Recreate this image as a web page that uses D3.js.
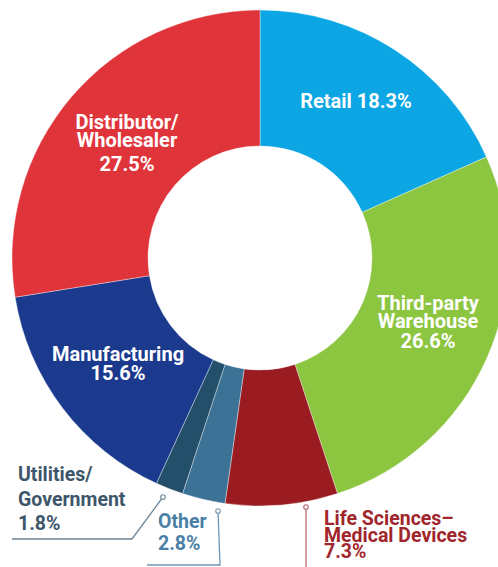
<!DOCTYPE html>
<html>
<head>
<meta charset="utf-8">
<script src="https://cdn.jsdelivr.net/npm/d3@7"></script>
<style>
  html, body { margin: 0; padding: 0; background: #fff; }
  svg { display: block; }
  text { font-family: Roboto, "Noto Sans", sans-serif; }
</style>
</head>
<body>
<svg id="chart" width="498" height="567"></svg>
<script>
// Share of respondents by industry (percent), clockwise from 12 o'clock
const categories = ["Retail", "Third-party Warehouse", "Life Sciences–Medical Devices", "Other", "Utilities/Government", "Manufacturing", "Distributor/Wholesaler"];
const shares = [18.3, 26.6, 7.3, 2.8, 1.8, 15.6, 27.5];
// How each category name is broken over lines in its label
const nameLines = [
  ["Retail"],
  ["Third-party", "Warehouse"],
  ["Life Sciences–", "Medical Devices"],
  ["Other"],
  ["Utilities/", "Government"],
  ["Manufacturing"],
  ["Distributor/", "Wholesaler"]
];

const colors = ["#0ba6e3", "#8cc540", "#9a1c20", "#3d7297", "#234f6a", "#1b3a8e", "#e0343b"];
const outerText = { 2: "#a0262b", 3: "#4a7fa6", 4: "#3e566a" };
const leaderColor = { 2: "#b86a6e", 3: "#6f95b3", 4: "#6f8799" };

// Layout
const cx = 260, cy = 258, R = 248, r = 112;

// Text anchors: inside labels are centred, outside labels are left aligned
const inside = {
  0: { x: 356, y: 108, single: true },
  1: { x: 428, y: 310, gaps: [18, 20] },
  5: { x: 118, y: 361, gaps: [19] },
  6: { x: 127, y: 129, gaps: [18, 24] }
};
const outside = {
  4: { x: 18, y: 481, gap: 24.5, leader: [[163, 497], [132, 539], [12, 539]] },
  3: { x: 158, y: 528, gap: 22, leader: [[218, 511], [220, 565], [147, 565]] },
  2: { x: 324, y: 525, gap: 16.5, leader: [[306, 507], [306, 570]] }
};

const svg = d3.select("#chart");
const fmt = v => d3.format(".1f")(v) + "%";

const pie = d3.pie().sort(null).value(d => d)
  .startAngle(0).endAngle(2 * Math.PI);
const arc = d3.arc().innerRadius(r).outerRadius(R);

const g = svg.append("g").attr("transform", `translate(${cx},${cy})`);
g.selectAll("path.slice")
  .data(pie(shares))
  .join("path")
  .attr("class", "slice")
  .attr("d", arc)
  .attr("fill", (d, i) => colors[i])
  .attr("stroke", "#ffffff")
  .attr("stroke-opacity", 0.45)
  .attr("stroke-width", 0.8);

// Labels inside the ring
Object.entries(inside).forEach(([k, p]) => {
  const i = +k;
  const t = svg.append("text")
    .attr("text-anchor", "middle")
    .attr("fill", "#ffffff")
    .attr("font-weight", 700)
    .attr("font-size", 20);
  if (p.single) {
    t.append("tspan").attr("x", p.x).attr("y", p.y)
      .text(nameLines[i][0] + " " + fmt(shares[i]));
  } else {
    const lines = nameLines[i].concat([fmt(shares[i])]);
    let y = p.y;
    lines.forEach((s, j) => {
      if (j > 0) y += p.gaps[Math.min(j - 1, p.gaps.length - 1)];
      t.append("tspan").attr("x", p.x).attr("y", y).text(s);
    });
  }
});

// Labels outside the ring, with leader lines
const line = d3.line();
Object.entries(outside).forEach(([k, p]) => {
  const i = +k;
  svg.append("path")
    .attr("d", line(p.leader))
    .attr("fill", "none")
    .attr("stroke", leaderColor[i])
    .attr("stroke-width", 1.3);
  svg.append("circle")
    .attr("cx", p.leader[0][0]).attr("cy", p.leader[0][1])
    .attr("r", 2.3)
    .attr("fill", "#ffffff")
    .attr("stroke", leaderColor[i])
    .attr("stroke-width", 1.1);
  const t = svg.append("text")
    .attr("fill", outerText[i])
    .attr("font-weight", 700)
    .attr("font-size", 19.5);
  nameLines[i].concat([fmt(shares[i])]).forEach((s, j) => {
    t.append("tspan").attr("x", p.x).attr("y", p.y + j * p.gap).text(s);
  });
});
</script>
</body>
</html>
